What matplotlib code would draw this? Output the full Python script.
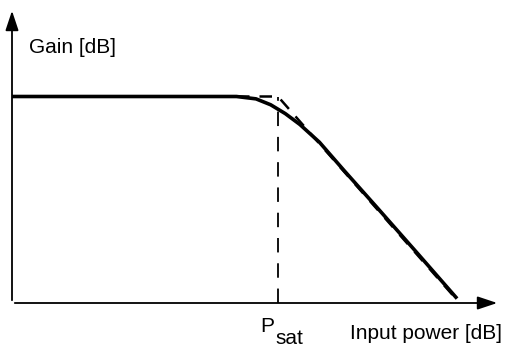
import matplotlib
matplotlib.use("Agg")
import matplotlib.pyplot as plt

plt.rcParams['font.family'] = ['Liberation Sans', 'DejaVu Sans']

# input power / gain in arbitrary units (axes run 0..10)
p_sat = 5.45
gain_lin = 7.0
p_end = 9.12

# measured-like gain curve
curve_p = [0.0, 4.6, 5.0, 5.3, 5.6, 5.9, 6.3, 6.8, 7.5, 8.3, 9.12]
curve_g = [7.0, 7.0, 6.92, 6.72, 6.42, 6.05, 5.45, 4.5, 3.2, 1.7, 0.15]

# asymptotes
asym_p = [0.0, p_sat, p_end]
asym_g = [gain_lin, gain_lin, 0.1]

fig = plt.figure(figsize=(5.06, 3.54), dpi=100)
ax = fig.add_axes([12 / 506, 51 / 354, 488 / 506, 295 / 354])
ax.set_xlim(0, 10)
ax.set_ylim(0, 10)
ax.axis('off')

ax.plot(curve_p, curve_g, color='black', lw=2.6, solid_capstyle='butt')
ax.plot(asym_p, asym_g, color='black', lw=1.8, ls=(0, (5, 4)))
ax.plot([p_sat, p_sat], [0, gain_lin], color='black', lw=1.3, ls=(0, (8, 6)))

# axes arrows
ax.annotate('', xy=(10, 0), xytext=(0, 0),
            arrowprops=dict(arrowstyle='-|>,head_length=1.2,head_width=0.4',
                            color='black', lw=1.3), annotation_clip=False)
ax.annotate('', xy=(0, 10), xytext=(0, 0),
            arrowprops=dict(arrowstyle='-|>,head_length=1.2,head_width=0.4',
                            color='black', lw=1.3), annotation_clip=False)

ax.text(0.35, 8.47, 'Gain [dB]', fontsize=15, ha='left', va='baseline')
ax.text(10.05, -1.22, 'Input power [dB]', fontsize=15, ha='right', va='baseline')
ax.text(p_sat - 0.36, -0.98, 'P', fontsize=15, ha='left', va='baseline')
ax.text(p_sat - 0.05, -1.39, 'sat', fontsize=15, ha='left', va='baseline')

fig.savefig('out.png', dpi=100)
